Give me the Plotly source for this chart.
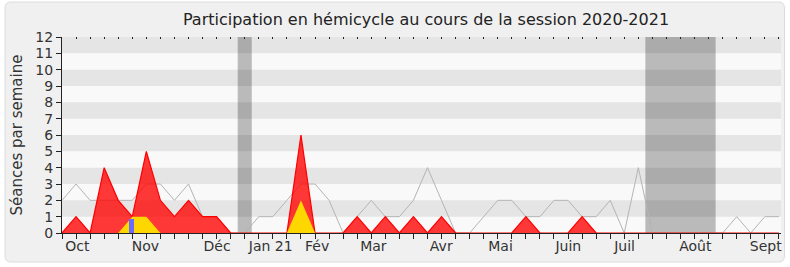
import plotly.graph_objects as go

weeks = list(range(52))
presence = [0, 1, 0, 4, 2, 1, 5, 2, 1, 2, 1, 1, 0,
            0, 0, 0, 0, 6, 0, 0, 0, 1, 0, 1, 0, 1, 0, 1,
            0, 0, 0, 0, 0, 1, 0, 0, 0, 1, 0, 0, 0, 0,
            0, 0, 0, 0, 0, 0, 0, 0, 0, 0]
median_line = [2, 3, 2, 2, 2, 2, 3, 3, 2, 3, 1, 1, 0,
               0, 1, 1, 2, 3, 3, 2, 0, 1, 2, 1, 1, 2, 4, 2,
               0, 0, 1, 2, 2, 1, 1, 2, 2, 1, 1, 2, 0, 4,
               0, 0, 0, 0, 0, 0, 1, 0, 1, 1]
interventions = [0, 0, 0, 0, 0, 1, 1, 0, 0, 0, 0, 0, 0,
                 0, 0, 0, 0, 2, 0, 0, 0, 0, 0, 0, 0, 0, 0, 0,
                 0, 0, 0, 0, 0, 0, 0, 0, 0, 0, 0, 0, 0, 0,
                 0, 0, 0, 0, 0, 0, 0, 0, 0, 0]
question_weeks = [4.95]
question_values = [0.85]

month_pos = [1.1, 5.93, 11.03, 14.85, 18.15, 22.15, 26.98, 31.2, 36.02, 40.02, 45.05, 50.06]
month_labels = ["Oct", "Nov", "Déc", "Jan 21", "Fév", "Mar", "Avr", "Mai", "Juin", "Juil", "Août", "Sept"]
vacations = [(12.5, 13.5), (41.5, 46.5)]

W, H = 790, 267
L, R, T, B = 62, 9, 37, 34
XMAX = 51.15
pw, ph = W - L - R, H - T - B

def px(x):
    return (x - L) / pw

def py(y):
    return (H - B - y) / ph

font = "DejaVu Sans"

fig = go.Figure()
fig.add_trace(go.Scatter(x=weeks, y=median_line, mode="lines",
                         line=dict(color="#b4b4b4", width=1), hoverinfo="skip"))
fig.add_trace(go.Scatter(x=weeks, y=presence, mode="lines", fill="tozeroy",
                         fillcolor="rgba(255,0,0,0.78)", line=dict(color="#ff0000", width=1.2)))
fig.add_trace(go.Scatter(x=weeks, y=interventions, mode="lines", fill="tozeroy",
                         fillcolor="#ffd700", line=dict(color="rgba(0,0,0,0)", width=0)))
fig.add_trace(go.Bar(x=question_weeks, y=question_values, width=0.35, xaxis="x2",
                     marker=dict(color="#6b6bff", line=dict(width=0))))

shapes = []
x0, x1, y0, y1, r = px(5), px(784.5), py(2), py(262), 6
rx, ry = r / pw, r / ph
path = (f"M {x0+rx},{y0} L {x1-rx},{y0} Q {x1},{y0} {x1},{y0-ry} "
        f"L {x1},{y1+ry} Q {x1},{y1} {x1-rx},{y1} L {x0+rx},{y1} "
        f"Q {x0},{y1} {x0},{y1+ry} L {x0},{y0-ry} Q {x0},{y0} {x0+rx},{y0} Z")
shapes.append(dict(type="path", xref="paper", yref="paper", path=path,
                   fillcolor="#f0f0f0", line=dict(color="#dcdcdc", width=1), layer="below"))
shapes.append(dict(type="rect", xref="x", yref="y", x0=0, x1=XMAX, y0=0, y1=12,
                   fillcolor="#f9f9f9", line=dict(width=0), layer="below"))
for k in range(1, 12, 2):
    shapes.append(dict(type="rect", xref="x", yref="y", x0=0, x1=XMAX, y0=k, y1=k + 1,
                       fillcolor="#e5e5e5", line=dict(width=0), layer="below"))
for a, b in vacations:
    shapes.append(dict(type="rect", xref="x", yref="y", x0=a, x1=b, y0=0, y1=12,
                       fillcolor="rgba(0,0,0,0.25)", line=dict(width=0), layer="below"))

fig.update_layout(
    width=W, height=H,
    margin=dict(l=L, r=R, t=T, b=B, pad=0),
    paper_bgcolor="white", plot_bgcolor="#f9f9f9",
    showlegend=False,
    shapes=shapes,
    title=dict(text="Participation en hémicycle au cours de la session 2020-2021",
               x=426 / W, xref="container", xanchor="center",
               y=1 - 19 / H, yref="container", yanchor="middle",
               font=dict(family=font, size=16, color="#222")),
    xaxis=dict(range=[0, XMAX], tickmode="array", tickvals=month_pos, ticktext=month_labels,
               ticks="", showgrid=False, zeroline=False, showline=True,
               linecolor="#222", linewidth=1, layer="above traces",
               tickfont=dict(family=font, size=14, color="#333"),
               minor=dict(tickmode="array", tickvals=weeks, ticks="outside",
                          ticklen=5, tickcolor="#222", showgrid=False)),
    xaxis2=dict(range=[0, XMAX], overlaying="x", side="top", tickmode="array",
                tickvals=weeks, ticks="inside", ticklen=2, tickcolor="#222",
                showticklabels=False, showgrid=False, zeroline=False, showline=False),
    yaxis=dict(range=[0, 12], tickmode="array", tickvals=list(range(13)),
               ticks="outside", ticklen=5, tickcolor="#222",
               showgrid=False, zeroline=False, showline=True, linecolor="#222", linewidth=1,
               tickfont=dict(family=font, size=14, color="#333"),
               title=dict(text="Séances par semaine", standoff=9,
                          font=dict(family=font, size=15, color="#333"))),
    bargap=0,
)

fig.write_html("out.html")
